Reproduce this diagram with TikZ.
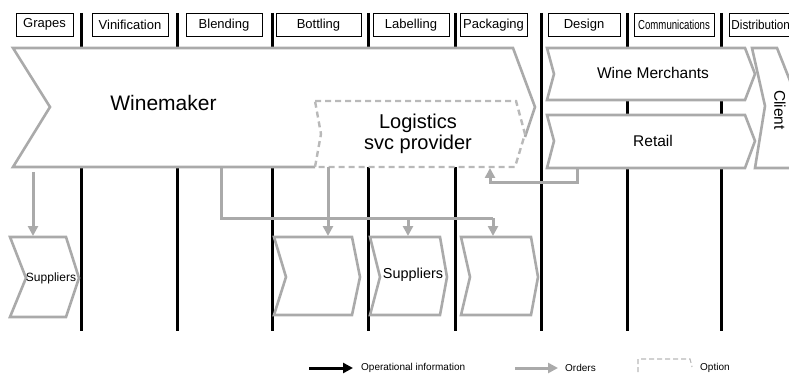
\documentclass[tikz,border=0pt]{standalone}
\usepackage{fontspec}
\setmainfont{Liberation Sans}
\usetikzlibrary{arrows.meta}
\definecolor{ordgrey}{RGB}{170,170,170}
\definecolor{optgrey}{RGB}{185,185,185}
\begin{document}
\begin{tikzpicture}[x=1pt,y=-1pt,
  stagebox/.style={draw=black, line width=0.9pt, inner sep=0pt, minimum height=23pt, font=\fontsize{13}{14}\selectfont},
  sepline/.style={line width=3pt, black},
  chevron/.style={draw=ordgrey, line width=2.6pt, fill=white, line join=miter},
  optline/.style={draw=optgrey, line width=2.4pt, dash pattern=on 6pt off 4pt},
  orderarrow/.style={draw=ordgrey, line width=3pt, -{Triangle[length=10pt,width=10pt]}},
  infoarrow/.style={draw=black, line width=3pt, -{Triangle[length=10pt,width=10pt]}},
  lbl/.style={inner sep=0pt, text=black, align=center},
]
\useasboundingbox (0,0) rectangle (789,374);
\clip (0,0) rectangle (789,374);

% stage labels
\node[stagebox, minimum width=57pt] (grapes) at (44.5,24.7) {Grapes};
\node[stagebox, minimum width=76pt] (vinif) at (130,24.7) {Vinification};
\node[stagebox, minimum width=76pt] (blend) at (224,24.7) {Blending};
\node[stagebox, minimum width=85pt] (bottl) at (318.5,24.7) {Bottling};
\node[stagebox, minimum width=76pt] (label) at (411,24.7) {Labelling};
\node[stagebox, minimum width=67pt] (packg) at (493.5,24.7) {Packaging};
\node[stagebox, minimum width=72pt] (design) at (584,24.7) {Design};
\node[stagebox, minimum width=80pt] (comms) at (674,24.7) {\scalebox{0.74}[1]{Communications}};
\node[stagebox, minimum width=66pt, anchor=west, text width=64pt, align=left] (distr) at (729,24.7) {\hspace*{1pt}\scalebox{0.9}[1]{Distribution}};

% separators
\foreach \sx in {81,177,272,368,455,541,627,721}
  \draw[sepline] (\sx,13) -- (\sx,331);

% Winemaker
\fill[white] (13,48) -- (513,48) -- (535,107) -- (515,167) -- (13,167) -- (50,107) -- cycle;
\draw[draw=ordgrey, line width=2.6pt, line join=miter]
  (525,137) -- (535,107) -- (513,48) -- (13,48) -- (50,107) -- (13,167) -- (315,167);
% Logistics (option)
\draw[optline] (315,101) -- (516,101) -- (525,134) -- (515,167) -- (315,167) -- (321,134) -- cycle;

% Wine merchants, Retail, Client
\draw[chevron] (547,48) -- (745,48) -- (755,74) -- (745,100) -- (547,100) -- (554,74) -- cycle;
\draw[chevron] (547,115) -- (745,115) -- (755,141) -- (745,168) -- (547,168) -- (554,141) -- cycle;
\draw[chevron] (752,48) -- (777,48) -- (800,106) -- (800,168) -- (755,168) -- (765,106) -- cycle;

% lower supplier chevrons
\draw[chevron] (10,237) -- (66,237) -- (79,278) -- (66,317) -- (10,317) -- (26,278) -- cycle;
\draw[chevron] (274,237) -- (352,237) -- (360,277) -- (352,315) -- (274,315) -- (286,277) -- cycle;
\draw[chevron] (370,237) -- (440,237) -- (447,277) -- (440,315) -- (370,315) -- (380,277) -- cycle;
\draw[chevron] (461,237) -- (531,237) -- (538,277) -- (531,315) -- (461,315) -- (470,277) -- cycle;

% texts
\node[lbl, font=\fontsize{21}{24}\selectfont] (wm) at (163.5,103) {Winemaker};
\node[lbl, font=\fontsize{20}{21}\selectfont] (lsp) at (418,134) {Logistics\\svc provider};
\node[lbl, font=\fontsize{15.5}{18}\selectfont] (wmer) at (653,73) {Wine Merchants};
\node[lbl, font=\fontsize{15.5}{18}\selectfont] (retail) at (653,141) {Retail};
\node[lbl, font=\fontsize{15.5}{18}\selectfont, rotate=-90] (client) at (780,110) {Client};
\node[lbl, font=\fontsize{12}{14}\selectfont] (sup1) at (51,278) {Suppliers};
\node[lbl, font=\fontsize{14.4}{16}\selectfont] (sup3) at (413,275) {Suppliers};

% connector end points
\coordinate (wmA) at (33,172);
\coordinate (s1top) at (33,236);
\coordinate (wmB) at (221,167);
\coordinate (jct) at (221,218);
\coordinate (s2top) at (328,236);
\coordinate (lspB) at (328,167);
\coordinate (s3top) at (408,236);
\coordinate (s4top) at (493,236);
\coordinate (retB) at (577,168);
\coordinate (lspR) at (490,168);

% order arrows
\draw[orderarrow] (wmA) -- (s1top);
\draw[orderarrow] (lspB) -- (s2top);
\draw[draw=ordgrey, line width=3pt, line join=miter] (wmB) -- (jct) -- (jct -| s4top);
\draw[orderarrow] (jct -| s3top) -- (s3top);
\draw[orderarrow, line join=miter] (jct -| s4top) -- (s4top);
\draw[orderarrow, line join=miter] (retB) -- ++(0,15) -| (lspR);

% legend
\coordinate (l1a) at (309,368); \coordinate (l1b) at (353,368);
\coordinate (l2a) at (515,368); \coordinate (l2b) at (558,368);
\draw[infoarrow] (l1a) -- (l1b);
\node[lbl, anchor=west, font=\fontsize{10}{12}\selectfont] (leg1) at (361,368) {Operational information};
\draw[orderarrow] (l2a) -- (l2b);
\node[lbl, anchor=west, font=\fontsize{10}{12}\selectfont] (leg2) at (565,368) {Orders};
\draw[draw=optgrey, line width=1.1pt, dash pattern=on 5pt off 3pt] (638,372) -- (638,359) -- (690,359) -- (692,367);
\node[lbl, anchor=west, font=\fontsize{10}{12}\selectfont] (leg3) at (700,368) {Option};
\end{tikzpicture}
\end{document}
